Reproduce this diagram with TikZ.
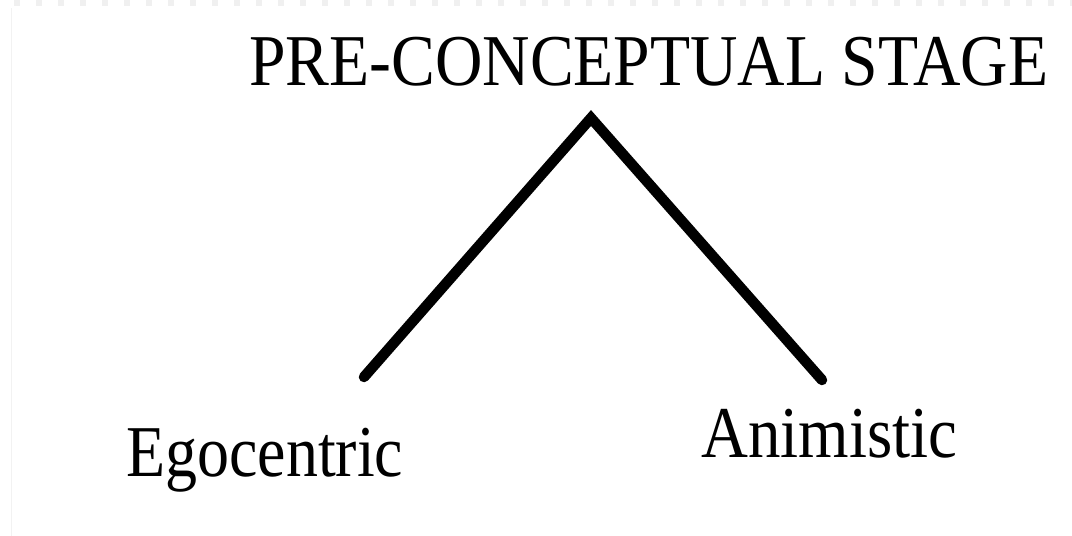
\documentclass[tikz,border=0pt]{standalone}
\usepackage{fontspec}
\usepackage{graphicx}
\setmainfont{Liberation Serif}
\newcommand{\fitw}[2]{\resizebox{#1}{\height}{#2}}
\begin{document}
\begin{tikzpicture}[x=1pt,y=-1pt,
  lbl/.style={anchor=base west,inner sep=0pt,font=\fontsize{73}{80}\selectfont},
  branch/.style={line width=10.5pt,line cap=round,line join=miter}]
\useasboundingbox (0,0) rectangle (1072,536);
\fill[white] (0,0) rectangle (1072,536);
\draw[gray!12,line width=6pt,dash pattern=on 6pt off 16pt] (14,3) -- (1072,3);
\draw[gray!10,line width=0.8pt] (11.5,8) -- (11.5,536);
\node[lbl] (title) at (249,85) {\fitw{799pt}{PRE-CONCEPTUAL STAGE}};
\node[lbl] (ego) at (126,476) {\fitw{277pt}{Egocentric}};
\node[lbl] (ani) at (701,457) {\fitw{256pt}{Animistic}};
\coordinate (apex) at (591,118);
\coordinate (lend) at (364,377);
\coordinate (rend) at (822,380);
\draw[branch] (lend) -- (apex) -- (rend);
\end{tikzpicture}
\end{document}
